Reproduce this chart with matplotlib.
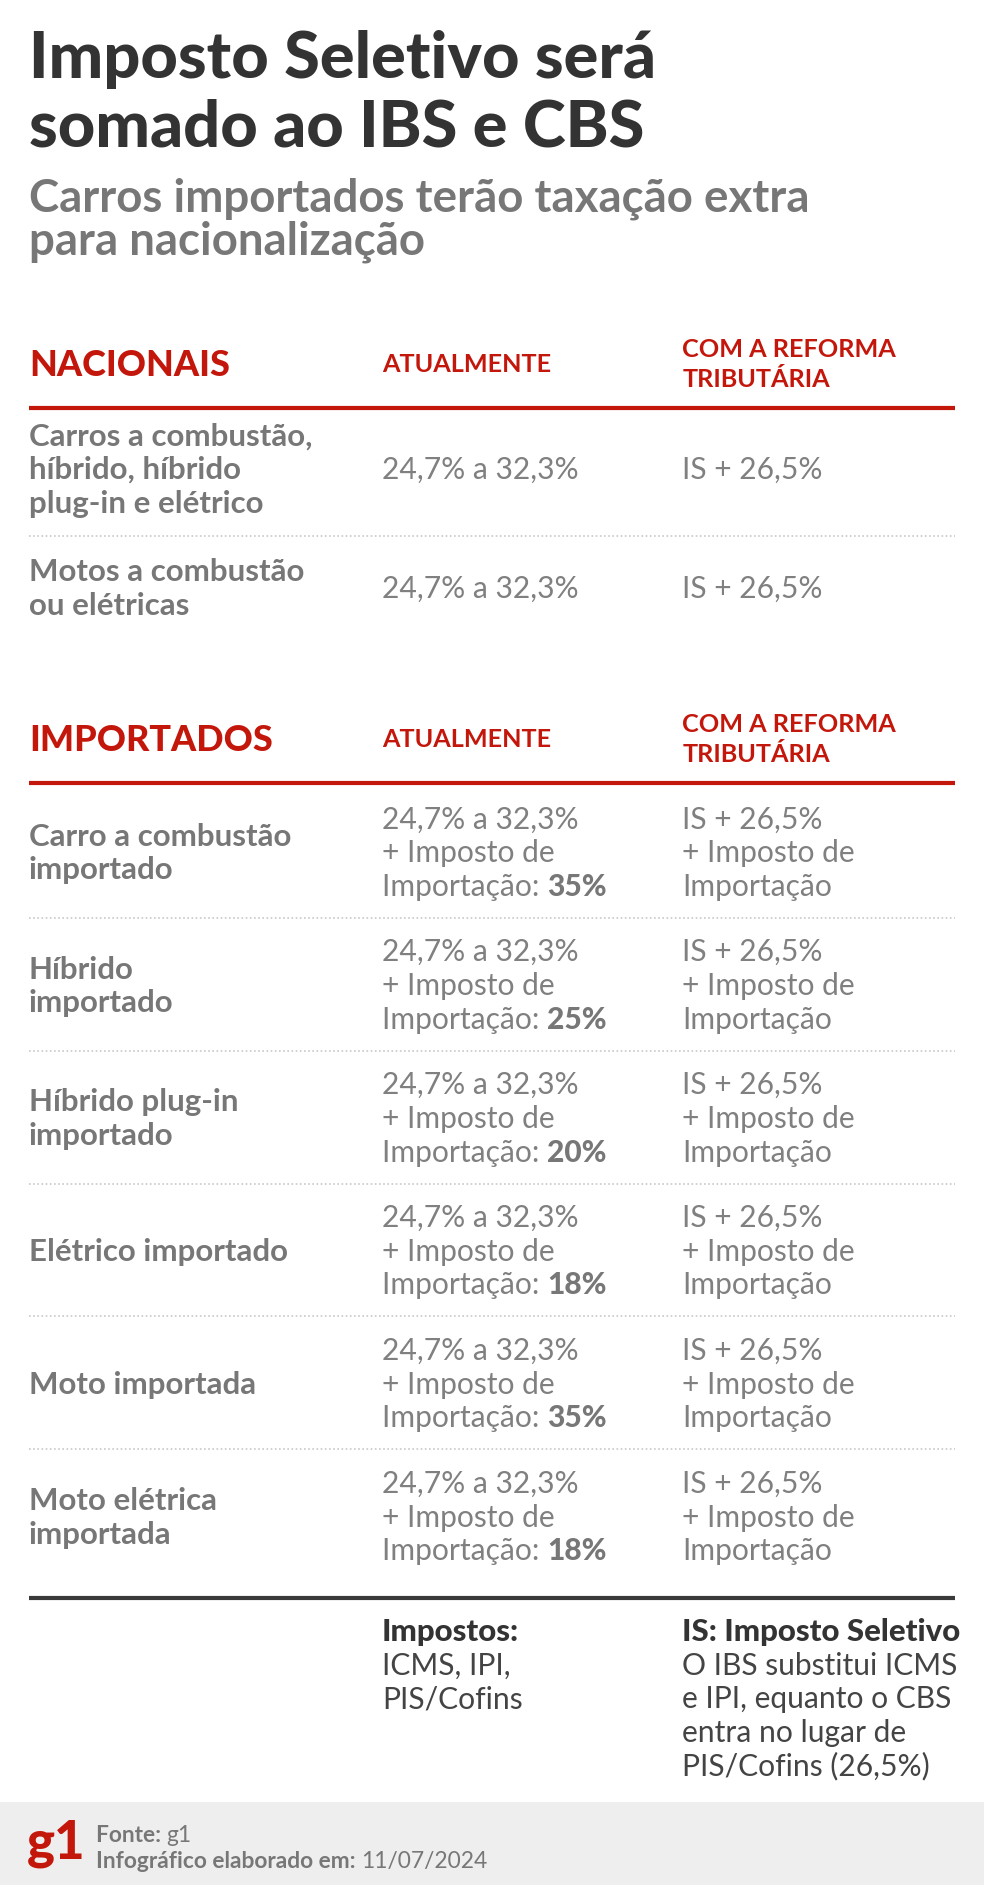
import matplotlib
matplotlib.use("Agg")
import matplotlib.pyplot as plt

# layout units = pixels of the 819x1568 preview
W, H = 819, 1568

title = ["Imposto Seletivo será", "somado ao IBS e CBS"]
subtitle = ["Carros importados terão taxação extra", "para nacionalização"]
col_atual = ["ATUALMENTE"]
col_reforma = ["COM A REFORMA", "TRIBUTÁRIA"]

nac_labels = [["Carros a combustão,", "híbrido, híbrido", "plug-in e elétrico"],
              ["Motos a combustão", "ou elétricas"]]
nac_atual = ["24,7% a 32,3%", "24,7% a 32,3%"]
nac_reforma = ["IS + 26,5%", "IS + 26,5%"]

imp_labels = [["Carro a combustão", "importado"],
              ["Híbrido", "importado"],
              ["Híbrido plug-in", "importado"],
              ["Elétrico importado"],
              ["Moto importada"],
              ["Moto elétrica", "importada"]]
imp_atual = ["24,7% a 32,3%"] * 6
imp_ii = ["35%", "25%", "20%", "18%", "35%", "18%"]
imp_reforma = ["IS + 26,5%"] * 6

nota_impostos = ["ICMS, IPI,", "PIS/Cofins"]
nota_is = ["O IBS substitui ICMS", "e IPI, equanto o CBS", "entra no lugar de", "PIS/Cofins (26,5%)"]
fonte = "g1"
data_info = "11/07/2024"

RED = "#c4170c"
DARK = "#333333"
GREY = "#777777"
LIGHT = "#808080"
FONT = "Lato"

fig = plt.figure(figsize=(9.84, 18.85), dpi=100)
ax = fig.add_axes([0, 0, 1, 1])
ax.set_xlim(0, W)
ax.set_ylim(H, 0)
ax.axis("off")
S = 984 / 819 * 72 / 100  # points per layout px
renderer = fig.canvas.get_renderer()


def txt(x, y, s, size, color, weight="normal"):
    return ax.text(x, y, s, fontsize=size * S, color=color, fontweight=weight,
                   family=FONT, va="baseline", ha="left")


def block(x, yc, lines, size, step, color, weight="normal"):
    y0 = yc - (len(lines) - 1) * step / 2 + 0.36 * size
    for i, s in enumerate(lines):
        txt(x, y0 + i * step, s, size, color, weight)


def right_edge(t):
    bb = t.get_window_extent(renderer)
    return ax.transData.inverted().transform((bb.x1, bb.y0))[0]


X0, X1, X2, XR = 24, 318, 568, 795

# title
for i, s in enumerate(title):
    txt(X0, 65 + i * 57, s, 54, DARK, "black")
for i, s in enumerate(subtitle):
    txt(X0, 176 + i * 36, s, 38, GREY, "bold")


def header(name, yc):
    txt(X0, yc + 0.36 * 30, name, 30, RED, "black")
    block(X1, yc, col_atual, 21, 25, RED, "bold")
    block(X2, yc, col_reforma, 21, 25, RED, "bold")
    ax.plot([X0, XR], [yc + 37, yc + 37], color=RED, lw=3, solid_capstyle="butt")


def dotted(y):
    ax.plot([X0, XR], [y, y], color="#c8c8c8", lw=1.2, linestyle=(0, (1, 1.5)))


# nacionais
header("NACIONAIS", 302)
nac_rows = [389, 488]
for i, yc in enumerate(nac_rows):
    block(X0, yc, nac_labels[i], 26, 28, GREY, "bold")
    block(X1, yc, [nac_atual[i]], 25, 28, LIGHT)
    block(X2, yc, [nac_reforma[i]], 25, 28, LIGHT)
dotted(446)

# importados
header("IMPORTADOS", 614)
step = 110.6
for i in range(len(imp_labels)):
    yc = 708 + i * step
    block(X0, yc, imp_labels[i], 26, 28, GREY, "bold")
    y0 = yc - 28 + 0.36 * 25
    txt(X1, y0, imp_atual[i], 25, LIGHT)
    txt(X1, y0 + 28, "+ Imposto de", 25, LIGHT)
    t = txt(X1, y0 + 56, "Importação: ", 25, LIGHT)
    txt(right_edge(t), y0 + 56, imp_ii[i], 25, GREY, "black")
    txt(X2, y0, imp_reforma[i], 25, LIGHT)
    txt(X2, y0 + 28, "+ Imposto de", 25, LIGHT)
    txt(X2, y0 + 56, "Importação", 25, LIGHT)
    if i > 0:
        dotted(yc - step / 2)

ax.plot([X0, XR], [1329, 1329], color="#3a3a3a", lw=3, solid_capstyle="butt")

# notes
yb = 1356 + 0.36 * 26
txt(X1, yb, "Impostos:", 26, DARK, "black")
for i, s in enumerate(nota_impostos):
    txt(X1, yb + (i + 1) * 27.8, s, 25, "#444444")
txt(X2, yb, "IS: Imposto Seletivo", 26, DARK, "black")
for i, s in enumerate(nota_is):
    txt(X2, yb + (i + 1) * 27.8, s, 25, "#444444")

# footer band
ax.add_patch(plt.Rectangle((0, 1499), W, H - 1499, color="#eeeeee", lw=0))
txt(22, 1546, "g1", 44, RED, "black")
t = txt(80, 1532, "Fonte: ", 19, GREY, "bold")
txt(right_edge(t), 1532, fonte, 19, GREY)
t = txt(80, 1554, "Infográfico elaborado em: ", 19, GREY, "bold")
txt(right_edge(t), 1554, data_info, 19, GREY)

fig.savefig("out.png", dpi=100)
